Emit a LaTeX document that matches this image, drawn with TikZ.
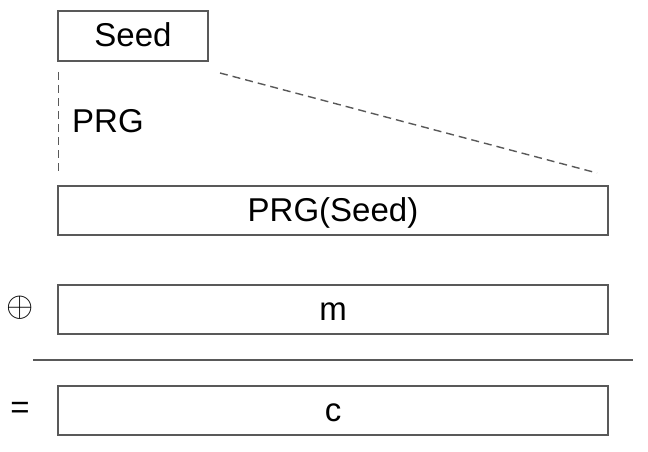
\documentclass[tikz,border=0pt]{standalone}
\usepackage{fontspec}
\setmainfont{Liberation Sans}
\begin{document}
\begin{tikzpicture}[x=1pt,y=-1pt,
  boxstyle/.style={draw=black!65, line width=1.3pt, inner sep=0pt, text height=24pt, text depth=2pt, font=\fontsize{33}{38}\selectfont},
  lbl/.style={inner sep=0pt, font=\fontsize{33}{38}\selectfont},
  dashline/.style={draw=black!65, line width=1.4pt, dash pattern=on 8pt off 5pt}]
\useasboundingbox (0,0) rectangle (648,452);
\node[boxstyle, minimum width=150pt, minimum height=50pt] (seed) at (133,36) {Seed};
\node[lbl, anchor=base west] (prglabel) at (72,132.5) {PRG};
\node[boxstyle, minimum width=550pt, minimum height=49pt] (prgseed) at (333,210.5) {PRG(Seed)};
\node[boxstyle, minimum width=550pt, minimum height=49pt] (m) at (333,309.5) {m};
\node[boxstyle, minimum width=550pt, minimum height=49pt] (c) at (333,410.5) {c};
\node[inner sep=0pt, font=\fontsize{10}{12}\selectfont] (xor) at (20,308) {\scalebox{3.5}{$\oplus$}};
\node[lbl] (eq) at (20,410) {=};
\coordinate (v1) at (58.5,72);
\coordinate (v2) at (58.5,174);
\coordinate (d1) at (220,73);
\coordinate (d2) at (597,173);
\coordinate (h1) at (33,360);
\coordinate (h2) at (633,360);
\draw[dashline] (v1) -- (v2);
\draw[dashline] (d1) -- (d2);
\draw[draw=black!65, line width=1.3pt] (h1) -- (h2);
\end{tikzpicture}
\end{document}
